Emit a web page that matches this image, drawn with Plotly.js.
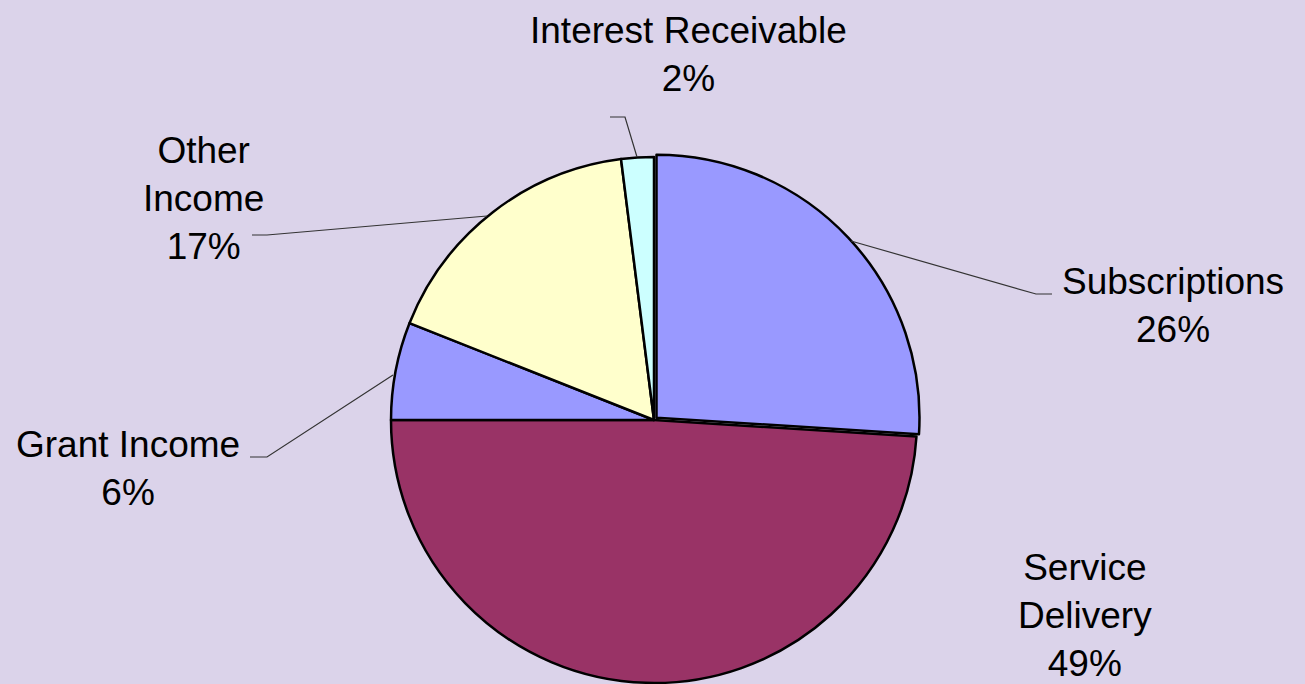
<!DOCTYPE html>
<html>
<head>
<meta charset="utf-8">
<script src="https://cdn.plot.ly/plotly-3.0.1.min.js"></script>
<style>
  html, body { margin: 0; padding: 0; background: #DBD3EA; overflow: hidden; }
  #chart { width: 1305px; height: 700px; }
</style>
</head>
<body>
<div id="chart"></div>
<script>
// ---- data ----
var categories = ["Subscriptions", "Service Delivery", "Grant Income", "Other Income", "Interest Receivable"];
var values = [26, 49, 6, 17, 2];
var displayNames = ["Subscriptions", "Service<br>Delivery", "Grant Income", "Other<br>Income", "Interest Receivable"];
var sliceColors = ["#9999FF", "#993366", "#9999FF", "#FFFFCC", "#CCFFFF"];
var pulls = [0.013, 0, 0, 0, 0];

// ---- layout helpers ----
var W = 1305, H = 700;
function px(x) { return x / W; }
function py(y) { return 1 - y / H; }

var total = values.reduce(function (a, b) { return a + b; }, 0);
var pctText = values.map(function (v) { return Math.round(v / total * 100) + "%"; });

var cx = 654, cyTop = 420, r0 = 263 * 1.013;
var cyBottom = H - cyTop;

var trace = {
  type: "pie",
  labels: categories,
  values: values,
  sort: false,
  direction: "clockwise",
  rotation: 0,
  pull: pulls,
  textinfo: "none",
  hoverinfo: "label+percent",
  marker: { colors: sliceColors, line: { color: "#000000", width: 2.5 } },
  domain: {
    x: [(cx - r0) / W, (cx + r0) / W],
    y: [(cyBottom - r0) / H, (cyBottom + r0) / H]
  },
  showlegend: false
};

// label centres (pixels) and leader lines (pixels)
var labelPos = [
  [1173, 305],
  [1085, 615],
  [128, 468],
  [203, 198],
  [688, 55]
];
var leaders = [
  [[851, 241], [1036, 294], [1052, 294]],
  null,
  [[393, 375], [267, 457], [250, 457]],
  [[487, 216], [267, 235], [252, 235]],
  [[637, 157], [625, 117], [610, 117]]
];

var annotations = categories.map(function (c, i) {
  return {
    xref: "paper", yref: "paper",
    x: px(labelPos[i][0]), y: py(labelPos[i][1]),
    xanchor: "center", yanchor: "middle",
    text: displayNames[i] + "<br>" + pctText[i],
    showarrow: false,
    align: "center",
    font: { family: "Liberation Sans, Arial, sans-serif", size: 37, color: "#000000" }
  };
});

var shapes = [];
leaders.forEach(function (pts) {
  if (!pts) return;
  var d = pts.map(function (p, k) {
    return (k === 0 ? "M" : "L") + px(p[0]).toFixed(5) + "," + py(p[1]).toFixed(5);
  }).join(" ");
  shapes.push({
    type: "path", xref: "paper", yref: "paper", path: d,
    line: { color: "#333333", width: 1.2 }
  });
});

var layout = {
  width: W, height: H,
  margin: { l: 0, r: 0, t: 0, b: 0 },
  paper_bgcolor: "#DBD3EA",
  plot_bgcolor: "#DBD3EA",
  annotations: annotations,
  shapes: shapes
};

Plotly.newPlot("chart", [trace], layout, { displayModeBar: false, staticPlot: false });
</script>
</body>
</html>
